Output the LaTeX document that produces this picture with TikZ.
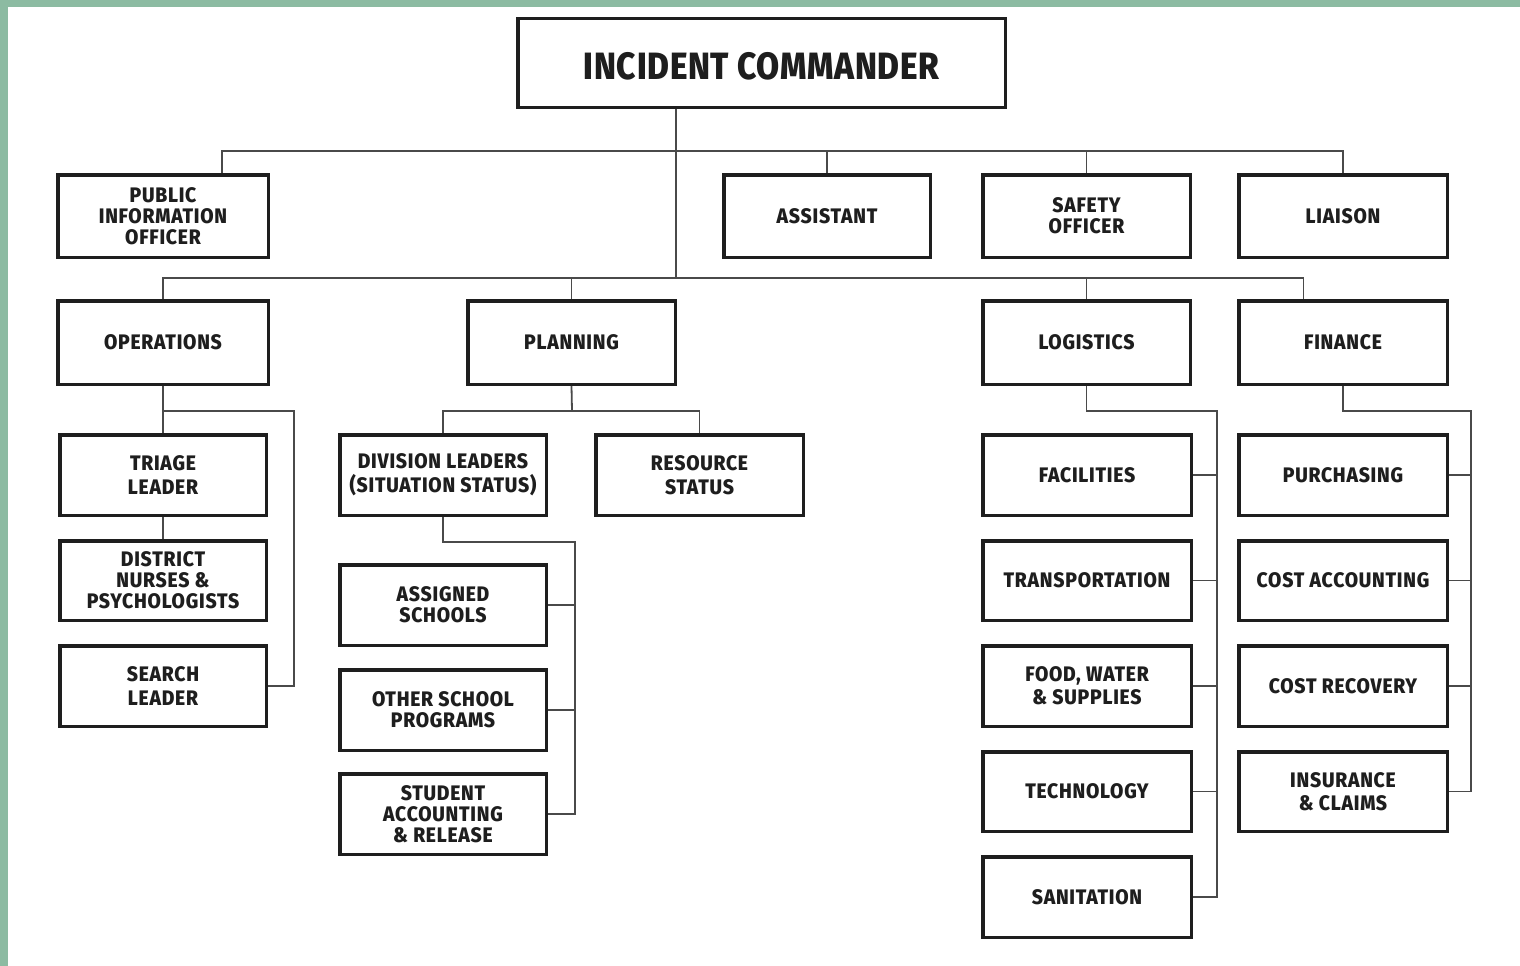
\documentclass[tikz,border=0pt]{standalone}
\usepackage{fontspec}
\setmainfont{Fira Sans}[UprightFont=* ExtraBold, BoldFont=* ExtraBold, FakeStretch=0.92, LetterSpace=3.6]
\newfontfamily\icfont{Fira Sans}[UprightFont=* ExtraBold, BoldFont=* ExtraBold, FakeStretch=0.88, LetterSpace=1.8]
\usetikzlibrary{backgrounds}
\definecolor{frame}{HTML}{8CBBA2}
\definecolor{ink}{HTML}{1E1E1E}
\definecolor{wire}{HTML}{4A4A4A}
\tikzset{
  bx/.style={draw=ink, line width=3.5pt, fill=white, inner sep=0pt, align=center,
    text=ink, font=\fontsize{21}{21}\selectfont},
  conn/.style={draw=wire, line width=1.8pt},
}
\newcommand{\bx}[6]{\node[bx, minimum width={#4-#2-3.5}, minimum height={#5-#3-3.5}] (#1) at ({(#2+#4)/2},{(#3+#5)/2}) {#6};}
\begin{document}
\begin{tikzpicture}[x=1pt,y=-1pt]
\useasboundingbox (0,0) rectangle (1520,966);
% boxes
\node[bx, minimum width={1007-516-3.5}, minimum height={109-17-3.5}, text height=32pt, text depth=0pt, font=\icfont\fontsize{38}{40}\selectfont] (ic) at ({(516+1007)/2},{(17+109)/2}) {INCIDENT COMMANDER};
\bx{pio}{56}{173}{270}{259}{PUBLIC\\INFORMATION\\OFFICER}
\bx{asst}{722}{173}{932}{259}{ASSISTANT}
\bx{safety}{981}{173}{1192}{259}{SAFETY\\OFFICER}
\bx{liaison}{1237}{173}{1449}{259}{LIAISON}
\bx{ops}{56}{299}{270}{386}{OPERATIONS}
\bx{plan}{466}{299}{677}{386}{PLANNING}
\bx{log}{981}{299}{1192}{386}{LOGISTICS}
\bx{fin}{1237}{299}{1449}{386}{FINANCE}
\bx{triage}{58}{433}{268}{517}{TRIAGE\\[3.5pt]LEADER}
\bx{district}{58}{539}{268}{622}{DISTRICT\\NURSES \&\\PSYCHOLOGISTS}
\bx{search}{58}{644}{268}{728}{SEARCH\\[3.5pt]LEADER}
\bx{div}{338}{433}{548}{517}{DIVISION LEADERS\\[3pt](SITUATION STATUS)}
\bx{res}{594}{433}{805}{517}{RESOURCE\\[3pt]STATUS}
\bx{assigned}{338}{563}{548}{647}{ASSIGNED\\SCHOOLS}
\bx{other}{338}{668}{548}{752}{OTHER SCHOOL\\PROGRAMS}
\bx{student}{338}{772}{548}{856}{STUDENT\\ACCOUNTING\\\& RELEASE}
\bx{fac}{981}{433}{1193}{517}{FACILITIES}
\bx{trans}{981}{539}{1193}{622}{TRANSPORTATION}
\bx{food}{981}{644}{1193}{728}{FOOD, WATER\\[2pt]\& SUPPLIES}
\bx{tech}{981}{750}{1193}{833}{TECHNOLOGY}
\bx{san}{981}{855}{1193}{939}{SANITATION}
\bx{purch}{1237}{433}{1449}{517}{PURCHASING}
\bx{costacc}{1237}{539}{1449}{622}{COST ACCOUNTING}
\bx{costrec}{1237}{644}{1449}{728}{COST RECOVERY}
\bx{ins}{1237}{750}{1449}{833}{INSURANCE\\[2pt]\& CLAIMS}
% junctions
\coordinate (j1) at (676,151);
\coordinate (j2) at (676,278);
\coordinate (opsr) at (294,411);
\coordinate (plb) at (572,411);
\coordinate (dvr) at (575,542);
\coordinate (lgr) at (1217,411);
\coordinate (fnr) at (1471,411);
\begin{pgfonlayer}{background}
\fill[frame] (0,0) rectangle (1520,966);
\fill[white] (8,7) rectangle (1520,966);
% incident commander trunk
\draw[conn] (ic.south -| j1) -- (j2);
% top bus
\draw[conn] ([xshift=59pt]pio.north) |- (j1) -| (liaison.north);
\draw[conn] (asst.north) -- (asst.north |- j1);
\draw[conn] (safety.north) -- (safety.north |- j1);
% section bus
\draw[conn] (ops.north) |- (j2) -| ([xshift=-39.5pt]fin.north);
\draw[conn] (plan.north) -- (plan.north |- j2);
\draw[conn] (log.north) -- (log.north |- j2);
% operations
\draw[conn] (ops.south) -- (triage.north);
\draw[conn] (triage.south) -- (district.north);
\draw[conn] (ops.south |- opsr) -- (opsr) |- (search.east);
% planning
\draw[conn] (plan.south) -- (plb);
\draw[conn] (div.north) |- (plb) -| (res.north);
\draw[conn] (div.south) |- (dvr) |- (student.east);
\draw[conn] (assigned.east) -- (assigned.east -| dvr);
\draw[conn] (other.east) -- (other.east -| dvr);
% logistics
\draw[conn] (log.south) |- (lgr) |- (san.east);
\draw[conn] (fac.east) -- (fac.east -| lgr);
\draw[conn] (trans.east) -- (trans.east -| lgr);
\draw[conn] (food.east) -- (food.east -| lgr);
\draw[conn] (tech.east) -- (tech.east -| lgr);
% finance
\draw[conn] (fin.south) |- (fnr) |- (ins.east);
\draw[conn] (purch.east) -- (purch.east -| fnr);
\draw[conn] (costacc.east) -- (costacc.east -| fnr);
\draw[conn] (costrec.east) -- (costrec.east -| fnr);
\end{pgfonlayer}
\end{tikzpicture}
\end{document}
